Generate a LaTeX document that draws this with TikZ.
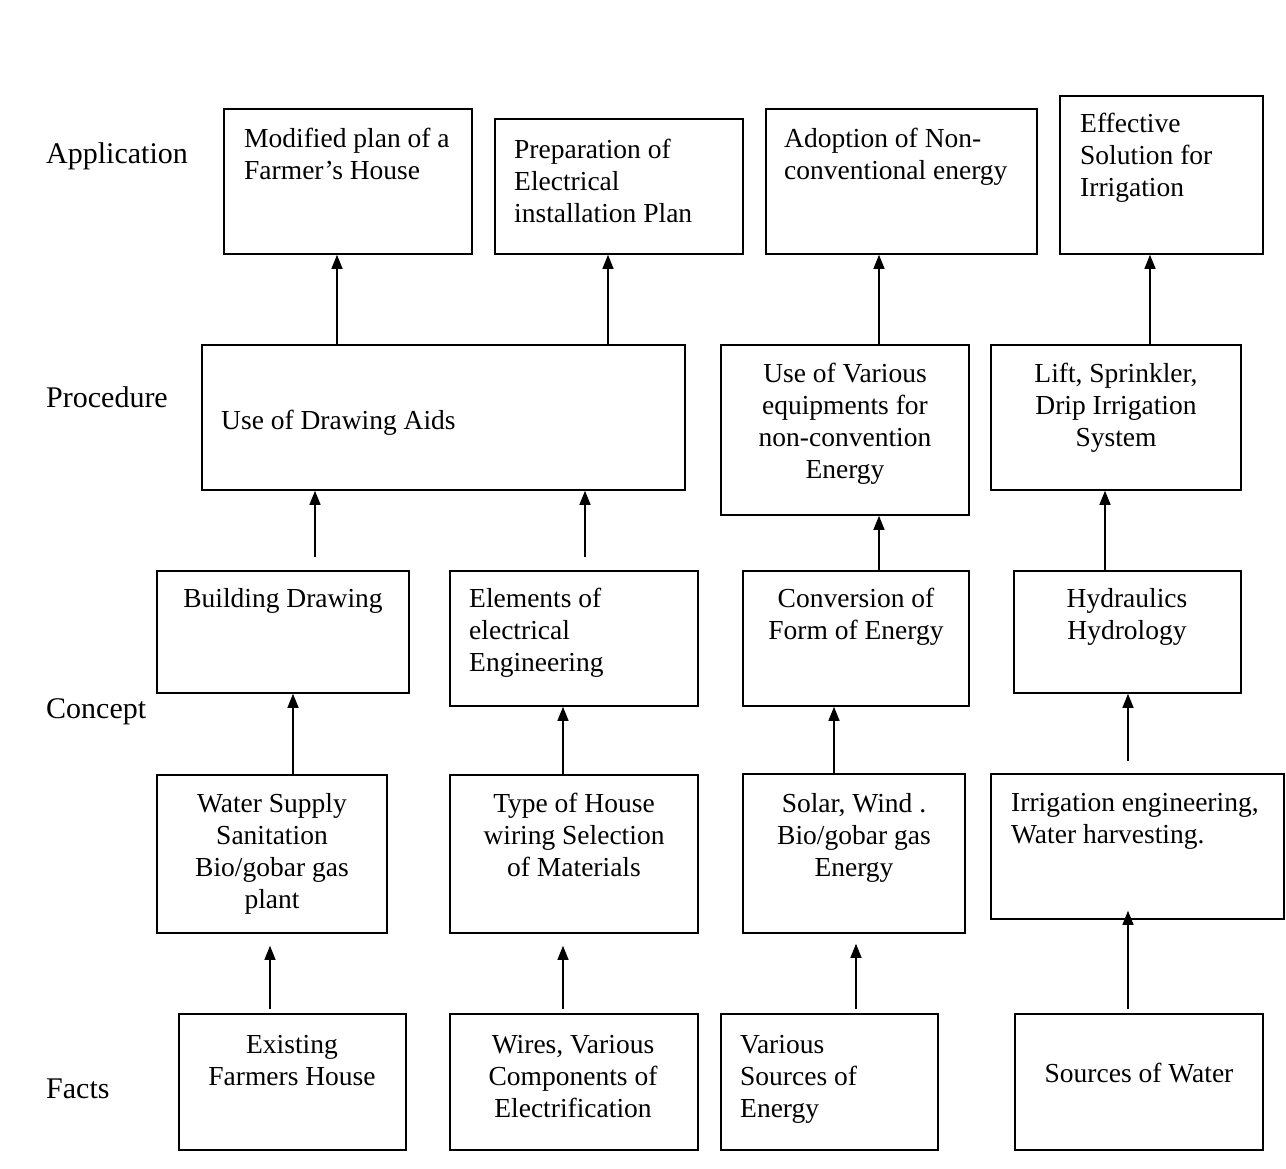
\documentclass[tikz,border=0pt]{standalone}
\usepackage{fontspec}
\setmainfont{Liberation Serif}
\usetikzlibrary{arrows.meta,fit}
\begin{document}
\begin{tikzpicture}[x=1pt,y=-1pt,
  boxst/.style={draw, line width=1.6pt, fill=white, inner sep=0pt},
  txt/.style={inner sep=0pt, font=\fontsize{27.5pt}{32pt}\selectfont},
  tl/.style={txt, anchor=north west, align=left},
  tc/.style={txt, anchor=north, align=center},
  lbl/.style={inner sep=0pt, anchor=base west, font=\fontsize{30pt}{34pt}\selectfont},
  arr/.style={line width=1.3pt, -{Triangle[length=14pt,width=11pt]}}]
\useasboundingbox (0,0) rectangle (1286,1169);

% boxes
\node[boxst, fit={(224,109) (472,254)}] (A1) {};
\node[boxst, fit={(495,119) (743,254)}] (A2) {};
\node[boxst, fit={(766,109) (1037,254)}] (A3) {};
\node[boxst, fit={(1060,96) (1263,254)}] (A4) {};
\node[boxst, fit={(202,345) (685,490)}] (P1) {};
\node[boxst, fit={(721,345) (969,515)}] (P2) {};
\node[boxst, fit={(991,345) (1241,490)}] (P3) {};
\node[boxst, fit={(157,571) (409,693)}] (C1) {};
\node[boxst, fit={(450,571) (698,706)}] (C2) {};
\node[boxst, fit={(743,571) (969,706)}] (C3) {};
\node[boxst, fit={(1014,571) (1241,693)}] (C4) {};
\node[boxst, fit={(157,775) (387,933)}] (F1) {};
\node[boxst, fit={(450,775) (698,933)}] (F2) {};
\node[boxst, fit={(743,774) (965,933)}] (F3) {};
\node[boxst, fit={(991,774) (1284,919)}] (F4) {};
\node[boxst, fit={(179,1014) (406,1150)}] (B1) {};
\node[boxst, fit={(450,1014) (698,1150)}] (B2) {};
\node[boxst, fit={(721,1014) (938,1150)}] (B3) {};
\node[boxst, fit={(1015,1014) (1263,1150)}] (B4) {};

% box texts
\node[tl] (tA1) at (244,128) {Modified plan of a\\Farmer's House};
\node[tl] (tA2) at (514,139) {Preparation of\\Electrical\\installation Plan};
\node[tl] (tA3) at (784,128) {Adoption of Non-\\conventional energy};
\node[tl] (tA4) at (1080,113) {Effective\\Solution for\\Irrigation};
\node[tl] (tP1) at (221,410) {Use of Drawing Aids};
\node[tc] (tP2) at (845,363) {Use of Various\\equipments for\\non-convention\\Energy};
\node[tc] (tP3) at (1116,363) {Lift, Sprinkler,\\Drip Irrigation\\System};
\node[tc] (tC1) at (283,588) {Building Drawing};
\node[tl] (tC2) at (469,588) {Elements of\\electrical\\Engineering};
\node[tc] (tC3) at (856,588) {Conversion of\\Form of Energy};
\node[tc] (tC4) at (1127,588) {Hydraulics\\Hydrology};
\node[tc] (tF1) at (272,793) {Water Supply\\Sanitation\\Bio/gobar gas\\plant};
\node[tc] (tF2) at (574,793) {Type of House\\wiring Selection\\of Materials};
\node[tc] (tF3) at (854,793) {Solar, Wind .\\Bio/gobar gas\\Energy};
\node[tl] (tF4) at (1011,793) {Irrigation engineering,\\Water harvesting.};
\node[tc] (tB1) at (292,1035) {Existing\\Farmers House};
\node[tc] (tB2) at (573,1035) {Wires, Various\\Components of\\Electrification};
\node[tl] (tB3) at (740,1035) {Various\\Sources of\\Energy};
\node[tc] (tB4) at (1139,1063) {Sources of Water};

% row labels
\node[lbl] (lApp) at (46,164) {Application};
\node[lbl] (lPro) at (46,407) {Procedure};
\node[lbl] (lCon) at (46,718) {Concept};
\node[lbl] (lFac) at (46,1098) {Facts};

% arrows
\draw[arr] (P1.north -| 337,0) -- (A1.south -| 337,0);
\draw[arr] (P1.north -| 608,0) -- (A2.south -| 608,0);
\draw[arr] (P2.north -| 879,0) -- (A3.south -| 879,0);
\draw[arr] (P3.north -| 1150,0) -- (A4.south -| 1150,0);
\draw[arr, shorten <=13pt] (C1.north -| 315,0) -- (P1.south -| 315,0);
\draw[arr, shorten <=13pt] (C2.north -| 585,0) -- (P1.south -| 585,0);
\draw[arr] (C3.north -| 879,0) -- (P2.south -| 879,0);
\draw[arr] (C4.north -| 1105,0) -- (P3.south -| 1105,0);
\draw[arr] (F1.north -| 293,0) -- (C1.south -| 293,0);
\draw[arr] (F2.north -| 563,0) -- (C2.south -| 563,0);
\draw[arr] (F3.north -| 834,0) -- (C3.south -| 834,0);
\draw[arr, shorten <=12pt] (F4.north -| 1128,0) -- (C4.south -| 1128,0);
\draw[arr, shorten <=4pt, shorten >=12pt] (B1.north -| 270,0) -- (F1.south -| 270,0);
\draw[arr, shorten <=4pt, shorten >=12pt] (B2.north -| 563,0) -- (F2.south -| 563,0);
\draw[arr, shorten <=4pt, shorten >=10pt] (B3.north -| 856,0) -- (F3.south -| 856,0);
\draw[arr, shorten <=4pt, shorten >=-9pt] (B4.north -| 1128,0) -- (F4.south -| 1128,0);
\end{tikzpicture}
\end{document}
